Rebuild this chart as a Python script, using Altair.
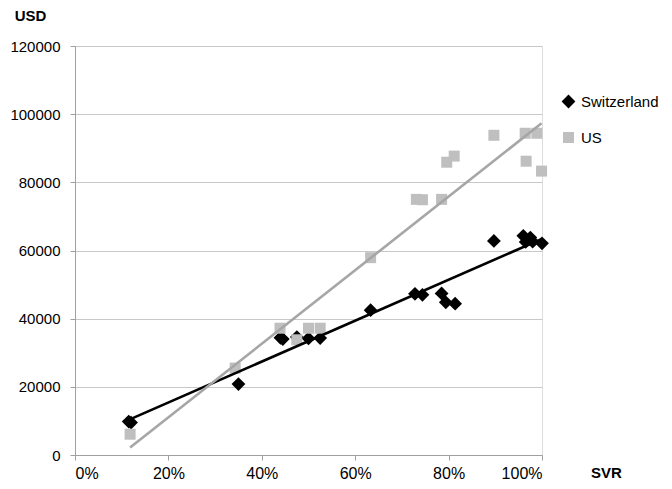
import altair as alt
import pandas as pd

# ---- data ----
countries = ["Switzerland", "US"]

ch_svr = [11.5, 12.0, 35.0, 44.0, 44.5, 47.5, 50.0, 52.5, 63.3, 72.8, 74.4, 78.5, 79.4, 81.4, 89.7, 96.0, 96.5, 97.5, 98.0, 100.0]
ch_usd = [9800, 9500, 20800, 34400, 34000, 34600, 34200, 34300, 42500, 47300, 47000, 47400, 44800, 44400, 62800, 64300, 62500, 63800, 62600, 62100]

us_svr = [11.8, 34.3, 43.9, 47.5, 50.0, 52.5, 63.3, 73.1, 74.4, 78.5, 79.6, 81.2, 89.7, 96.4, 96.6, 98.9, 99.9]
us_usd = [6100, 25500, 37200, 33800, 37200, 37200, 57900, 75000, 74900, 75000, 85900, 87700, 93800, 94400, 86200, 94400, 83300]

x_ticks = [0, 0.2, 0.4, 0.6, 0.8, 1.0]
y_ticks = [0, 20000, 40000, 60000, 80000, 100000, 120000]

df = pd.DataFrame({
    "svr": [v / 100 for v in ch_svr] + [v / 100 for v in us_svr],
    "usd": ch_usd + us_usd,
    "country": [countries[0]] * len(ch_svr) + [countries[1]] * len(us_svr),
})

FONT = "Liberation Sans"

xs = alt.Scale(domain=[0, 1], nice=False, zero=False)
ys = alt.Scale(domain=[0, 120000], nice=False)

xaxis = alt.Axis(
    values=x_ticks, format=".0%", grid=False,
    title="SVR", titleAngle=0, titleX=531, titleY=17,
    titleAlign="center", titleBaseline="middle",
    titleFontSize=15, titleFontWeight="bold", titleFont=FONT, titleColor="#000000",
    labelFontSize=16, labelFont=FONT, labelColor="#000000",
    tickSize=5, labelPadding=5,
    domainColor="#A0A0A0", tickColor="#A0A0A0",
)
yaxis = alt.Axis(
    values=y_ticks, format="d", grid=True, gridColor="#C8C8C8", gridWidth=1.2,
    title="USD", titleAngle=0, titleX=-45, titleY=-31,
    titleAlign="center", titleBaseline="middle",
    titleFontSize=15, titleFontWeight="bold", titleFont=FONT, titleColor="#000000",
    labelFontSize=15, labelFont=FONT, labelColor="#000000",
    tickSize=5, labelPadding=10,
    domainColor="#A0A0A0", tickColor="#A0A0A0",
)

legend = alt.Legend(
    title=None, orient="none", legendX=486, legendY=48,
    labelFont=FONT, labelFontSize=15, labelColor="#000000",
    symbolSize=50, symbolStrokeWidth=0, rowPadding=20, labelOffset=5,
)

points = alt.Chart(df).mark_point(filled=True, opacity=1, strokeWidth=0).encode(
    x=alt.X("svr:Q", scale=xs, axis=xaxis),
    y=alt.Y("usd:Q", scale=ys, axis=yaxis),
    color=alt.Color("country:N", scale=alt.Scale(domain=countries, range=["#000000", "#BFBFBF"]), legend=legend),
    shape=alt.Shape("country:N", scale=alt.Scale(domain=countries, range=["diamond", "square"]), legend=legend),
    size=alt.Size("country:N", scale=alt.Scale(domain=countries, range=[190, 121]), legend=None),
)

lines = alt.Chart(df).transform_regression(
    "svr", "usd", groupby=["country"]
).mark_line(strokeWidth=2.6).encode(
    x=alt.X("svr:Q", scale=xs),
    y=alt.Y("usd:Q", scale=ys),
    stroke=alt.Stroke("country:N", scale=alt.Scale(domain=countries, range=["#000000", "#A6A6A6"]), legend=None),
)

chart = alt.layer(points, lines).properties(
    width=467, height=409,
    autosize=alt.AutoSizeParams(type="none"),
    padding={"left": 67, "top": 38, "right": 122, "bottom": 26},
).configure_view(
    stroke="#404040", strokeWidth=1.2,
).configure(font=FONT)

chart.save("out.html", embed_options={"renderer": "svg", "actions": False})
